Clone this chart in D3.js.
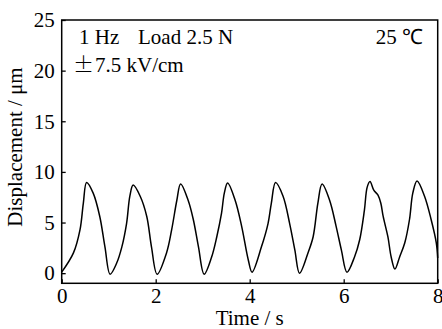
<!DOCTYPE html>
<html>
<head>
<meta charset="utf-8">
<script src="https://cdn.jsdelivr.net/npm/d3@7"></script>
<style>
  html, body { margin: 0; padding: 0; background: #fff; }
</style>
</head>
<body>
<script>
// data
const time = [0, 0.25, 0.39, 0.46, 0.53, 0.67, 0.81, 0.92, 1.03, 1.17, 1.28, 1.38, 1.45, 1.52, 1.67, 1.81, 1.91, 2.03,
  2.23, 2.34, 2.45, 2.53, 2.69, 2.8, 2.91, 3.03, 3.19, 3.3, 3.4, 3.46, 3.53, 3.69, 3.83, 3.97, 4.05,
  4.25, 4.39, 4.46, 4.55, 4.71, 4.85, 4.96, 5.06, 5.24, 5.35, 5.45, 5.54, 5.7, 5.84, 5.95, 6.07,
  6.23, 6.34, 6.44, 6.5, 6.56, 6.64, 6.73, 6.79, 6.84, 6.94, 7.01, 7.09, 7.19, 7.3, 7.4, 7.47, 7.56,
  7.72, 7.86, 7.97, 8.0];
const displacement = [0.1, 2.0, 4.3, 6.9, 8.95, 7.9, 5.6, 2.6, -0.1, 1.0, 2.6, 4.9, 7.6, 8.7, 7.6, 5.6, 2.6, -0.1,
  2.0, 4.3, 7.2, 8.8, 7.2, 5.3, 2.6, -0.1, 1.6, 3.6, 5.9, 7.9, 8.9, 7.2, 4.6, 1.3, 0.1,
  2.6, 4.9, 6.9, 8.95, 7.6, 4.9, 2.3, 0.0, 2.0, 3.6, 6.9, 8.8, 7.2, 4.6, 2.3, 0.1,
  1.6, 3.3, 6.2, 8.5, 9.05, 8.2, 7.7, 6.9, 5.6, 3.6, 1.6, 0.4, 1.6, 3.0, 5.3, 7.9, 9.1,
  7.6, 5.3, 3.0, 1.5];
const xTicks = [0, 2, 4, 6, 8];
const yTicks = [0, 5, 10, 15, 20, 25];

const W = 442, H = 329;
const M = { top: 20, right: 4.3, bottom: 45.7, left: 61.7 };
const SERIF = '"Liberation Serif"';
const fs = 21;

const svg = d3.select('body').append('svg').attr('width', W).attr('height', H);

const x = d3.scaleLinear().domain([0, 8]).range([M.left, W - M.right]);
const y = d3.scaleLinear().domain([-1, 25]).range([H - M.bottom, M.top]);

function label(sel) {
  return sel.style('font-family', SERIF).style('font-size', fs + 'px').attr('fill', '#000');
}

// frame
svg.append('rect')
  .attr('x', x(0)).attr('y', y(25))
  .attr('width', x(8) - x(0)).attr('height', y(-1) - y(25))
  .attr('fill', 'none').attr('stroke', '#000').attr('stroke-width', 1.5);

// axes with inward ticks
const xAxis = svg.append('g').attr('transform', `translate(0,${y(-1)})`)
  .call(d3.axisBottom(x).tickValues(xTicks).tickSizeInner(-4).tickSizeOuter(0).tickPadding(5));
const yAxis = svg.append('g').attr('transform', `translate(${x(0)},0)`)
  .call(d3.axisLeft(y).tickValues(yTicks).tickSizeInner(-4).tickSizeOuter(0).tickPadding(7));
[xAxis, yAxis].forEach(a => {
  a.select('.domain').remove();
  a.selectAll('line').attr('stroke', '#000').attr('stroke-width', 1.3);
  a.selectAll('text').call(label);
});

// curve
const line = d3.line()
  .x((d, i) => x(time[i]))
  .y(d => y(d))
  .curve(d3.curveCatmullRom.alpha(0.5));
svg.append('path')
  .datum(displacement)
  .attr('fill', 'none')
  .attr('stroke', '#000')
  .attr('stroke-width', 1.5)
  .attr('d', line);

// annotations
svg.append('text').attr('x', 79).attr('y', 44).call(label).text('1 Hz');
svg.append('text').attr('x', 138).attr('y', 44).call(label).text('Load 2.5 N');
svg.append('text').attr('x', 73).attr('y', 72).call(label)
  .call(t => {
    t.append('tspan').style('font-family', '"Noto Sans CJK SC"').style('font-weight', 300).text('±');
    t.append('tspan').attr('x', 95).text('7.5 kV/cm');
  });
svg.append('text').attr('x', 423).attr('y', 44).attr('text-anchor', 'end').call(label)
  .call(t => {
    t.append('tspan').text('25 ');
    t.append('tspan').text('℃');
  });

// axis titles
svg.append('text').attr('x', (x(0) + x(8)) / 2).attr('y', 325).attr('text-anchor', 'middle')
  .call(label).text('Time / s');
svg.append('text').attr('transform', `translate(22,147) rotate(-90)`).attr('text-anchor', 'middle')
  .call(label).text('Displacement / μm');
</script>
</body>
</html>
